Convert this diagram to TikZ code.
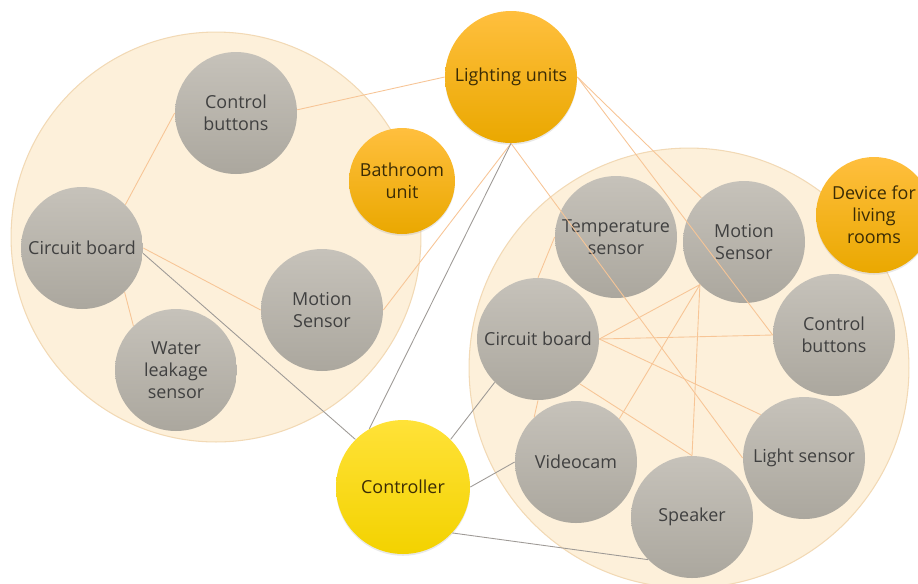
\documentclass[tikz,border=0pt]{standalone}
\usepackage{fontspec}
\setmainfont{Open Sans}
\usetikzlibrary{shadows}

\definecolor{roomfill}{HTML}{FDF0DA}
\definecolor{roomline}{HTML}{F2D9B5}
\definecolor{parttop}{HTML}{C6C2BA}
\definecolor{partbot}{HTML}{ABA79E}
\definecolor{parttext}{HTML}{404040}
\definecolor{unittop}{HTML}{FFBF3E}
\definecolor{unitbot}{HTML}{EAA800}
\definecolor{unittext}{HTML}{3B2C05}
\definecolor{ctrltop}{HTML}{FFE238}
\definecolor{ctrlbot}{HTML}{F3D200}
\definecolor{wirecol}{HTML}{F7C596}
\definecolor{linkcol}{HTML}{9E9A96}

\tikzset{
    room/.style={fill=roomfill, draw=roomline, line width=0.6pt},
    part/.style={circle, minimum size=2.44cm, inner sep=0pt, align=center,
        top color=parttop, bottom color=partbot, text=parttext,
        font=\fontsize{10.2}{12.6}\selectfont},
    unit/.style={part, top color=unittop, bottom color=unitbot, text=unittext,
        drop shadow={shadow xshift=0pt, shadow yshift=-1pt, opacity=0.18}},
    ctrlunit/.style={unit, top color=ctrltop, bottom color=ctrlbot},
    wire/.style={draw=wirecol, line width=0.5pt},
    link/.style={draw=linkcol, line width=0.5pt}
}

\begin{document}
\begin{tikzpicture}[x=0.02cm, y=-0.02cm]
    \clip (0,0) rectangle (918,583);
    % rooms
    \draw[room] (216,237) circle (4.1cm);
    \draw[room] (689,368) circle (4.4cm);

    % left room
    \node[part] (ctlL) at (236,113) {Control\\buttons};
    \node[part] (cbL) at (82,248) {Circuit board};
    \node[part] (wlk) at (176,370) {Water\\leakage\\sensor};
    \node[part] (msL) at (322,310) {Motion\\Sensor};
    \node[unit, minimum size=2.12cm] (bath) at (402,181) {Bathroom\\unit};

    % right room
    \node[part] (temp) at (616,237) {Temperature\\sensor};
    \node[part] (msR) at (744,242) {Motion\\Sensor};
    \node[part] (btnR) at (834,335) {Control\\buttons};
    \node[part] (cbR) at (538,339) {Circuit board};
    \node[part] (vcam) at (576,462) {Videocam};
    \node[part] (spk) at (692,517) {Speaker};
    \node[part] (lsR) at (804,458) {Light sensor};
    \node[unit, minimum size=2.32cm] (living) at (874,215) {Device for\\living\\rooms};

    \node[unit, minimum size=2.64cm] (light) at (511,77) {Lighting units};
    \node[ctrlunit, minimum size=2.68cm] (ctrl) at (403,487) {Controller};

    % wires
    \draw[wire] (cbL.45) -- (ctlL.180);
    \draw[wire] (cbL.-46) -- (wlk.134);
    \draw[wire] (cbL.0) -- (msL.180);
    \draw[wire] (ctlL.3) -- (light.180);
    \draw[wire] (msL.0) -- (light.-90);
    \draw[wire] (light.-90) -- (lsR.180);
    \draw[wire] (light.0) -- (msR.134);
    \draw[wire] (light.0) -- (btnR.180);

    \draw[wire] (cbR.90) -- (temp.180);
    \draw[wire] (cbR.0) -- (msR.224);
    \draw[wire] (cbR.0) -- (btnR.180);
    \draw[wire] (cbR.0) -- (lsR.135);
    \draw[wire] (cbR.-47) -- (spk.90);
    \draw[wire] (cbR.-90) -- (vcam.133);
    \draw[wire] (msR.224) -- (vcam.45);
    \draw[wire] (msR.224) -- (spk.90);

    % links to the controller
    \draw[link] (cbL.-5) -- (ctrl.135);
    \draw[link] (ctrl.120) -- (light.-90);
    \draw[link] (ctrl.45) -- (cbR.225);
    \draw[link] (ctrl.0) -- (vcam.180);
    \draw[link] (ctrl.-43) -- (spk.224);
\end{tikzpicture}
\end{document}
